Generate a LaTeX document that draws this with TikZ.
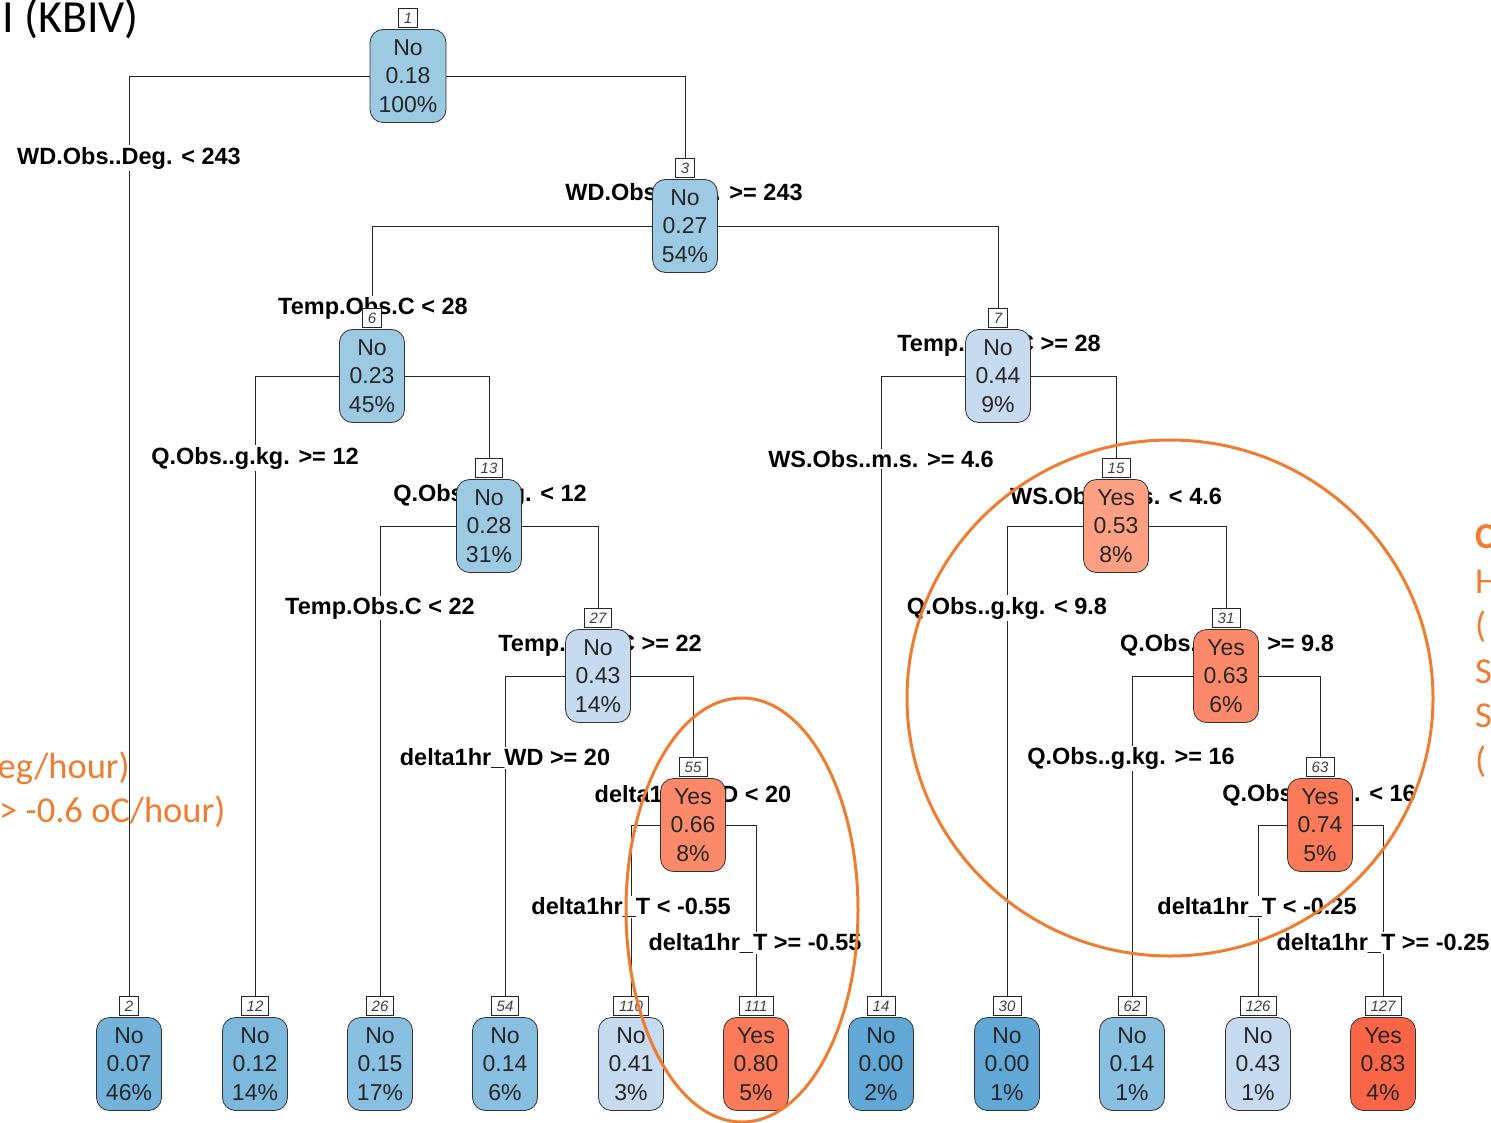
\documentclass[tikz,border=0pt]{standalone}
\usepackage{fontspec}
\setmainfont{Liberation Sans}
\newfontfamily\calib{Carlito}
\pgfdeclarelayer{bg}
\pgfdeclarelayer{lbl}
\pgfsetlayers{bg,lbl,main}
\definecolor{orng}{HTML}{ED7D31}
\definecolor{cA}{HTML}{62A8D6}
\definecolor{cB}{HTML}{72B2DB}
\definecolor{cC}{HTML}{7DB8DD}
\definecolor{cD}{HTML}{89BFE0}
\definecolor{cE}{HTML}{9DCAE3}
\definecolor{cF}{HTML}{C6DBEF}
\definecolor{rA}{HTML}{FC9F82}
\definecolor{rB}{HTML}{FC8A6A}
\definecolor{rC}{HTML}{FB7A5A}
\definecolor{rD}{HTML}{FA6547}
\tikzset{
  tnode/.style={draw=black!80, fill=#1, rounded corners=13pt, minimum width=65pt, minimum height=93pt,
    align=center, font=\fontsize{23}{28.5}\selectfont, text=black!85, line width=0.8pt, inner xsep=8pt},
  numbox/.style={draw=black!85, fill=white, font=\fontsize{15}{15}\selectfont\itshape, text=black!75,
    minimum height=19pt, inner xsep=5.5pt, inner ysep=1pt, line width=0.7pt, anchor=south},
  splitlbl/.style={fill=white, font=\fontsize{23.5}{23.5}\selectfont\bfseries, inner sep=1.5pt, text=black},
  branch/.style={line width=0.8pt, draw=black!85},
  orngtxt/.style={text=orng, font=\calib\fontsize{36.5}{36.5}\selectfont, inner sep=0pt}
}
\begin{document}
\begin{tikzpicture}[x=1pt,y=-1pt]
\useasboundingbox (0,0) rectangle (1491,1123);
\clip (0,0) rectangle (1491,1123);
% internal nodes
\node[tnode=cE, minimum width=76pt] (n1) at (408,76) {No\\0.18\\100\%};
\node[tnode=cE] (n3) at (685,226) {No\\0.27\\54\%};
\node[tnode=cE] (n6) at (372,376) {No\\0.23\\45\%};
\node[tnode=cF] (n7) at (998,376) {No\\0.44\\9\%};
\node[tnode=cE] (n13) at (489,526) {No\\0.28\\31\%};
\node[tnode=rA] (n15) at (1116,526) {Yes\\0.53\\8\%};
\node[tnode=cF] (n27) at (598,676) {No\\0.43\\14\%};
\node[tnode=rB] (n31) at (1226,676) {Yes\\0.63\\6\%};
\node[tnode=rB] (n55) at (693,825) {Yes\\0.66\\8\%};
\node[tnode=rC] (n63) at (1320,825) {Yes\\0.74\\5\%};
% leaves
\node[tnode=cB] (n2) at (129,1064) {No\\0.07\\46\%};
\node[tnode=cC] (n12) at (255,1064) {No\\0.12\\14\%};
\node[tnode=cD] (n26) at (380,1064) {No\\0.15\\17\%};
\node[tnode=cD] (n54) at (505,1064) {No\\0.14\\6\%};
\node[tnode=cF] (n110) at (631,1064) {No\\0.41\\3\%};
\node[tnode=rC] (n111) at (756,1064) {Yes\\0.80\\5\%};
\node[tnode=cA] (n14) at (881,1064) {No\\0.00\\2\%};
\node[tnode=cA] (n30) at (1007,1064) {No\\0.00\\1\%};
\node[tnode=cD] (n62) at (1132,1064) {No\\0.14\\1\%};
\node[tnode=cF] (n126) at (1258,1064) {No\\0.43\\1\%};
\node[tnode=rD] (n127) at (1383,1064) {Yes\\0.83\\4\%};
% number boxes
\foreach \k in {1,3,6,7,13,15,27,31,55,63,2,12,26,54,110,111,14,30,62,126,127}{
  \node[numbox] (b\k) at ([yshift=1pt]n\k.north) {\k};
}
% connectors
\begin{pgfonlayer}{bg}
\draw[branch] (n1.west) -| (b2.north);
\draw[branch] (n1.east) -| (b3.north);
\draw[branch] (n3.west) -| (b6.north);
\draw[branch] (n3.east) -| (b7.north);
\draw[branch] (n6.west) -| (b12.north);
\draw[branch] (n6.east) -| (b13.north);
\draw[branch] (n7.west) -| (b14.north);
\draw[branch] (n7.east) -| (b15.north);
\draw[branch] (n13.west) -| (b26.north);
\draw[branch] (n13.east) -| (b27.north);
\draw[branch] (n15.west) -| (b30.north);
\draw[branch] (n15.east) -| (b31.north);
\draw[branch] (n27.west) -| (b54.north);
\draw[branch] (n27.east) -| (b55.north);
\draw[branch] (n31.west) -| (b62.north);
\draw[branch] (n31.east) -| (b63.north);
\draw[branch] (n55.west) -| (b110.north);
\draw[branch] (n55.east) -| (b111.north);
\draw[branch] (n63.west) -| (b126.north);
\draw[branch] (n63.east) -| (b127.north);
\end{pgfonlayer}
% split labels
\begin{pgfonlayer}{lbl}
\node[splitlbl] (s1l) at (129,158) {WD.Obs..Deg. < 243};
\node[splitlbl] (s1r) at (684,194) {WD.Obs..Deg. >= 243};
\node[splitlbl] (s3l) at (373,308) {Temp.Obs.C < 28};
\node[splitlbl] (s3r) at (999,345) {Temp.Obs.C >= 28};
\node[splitlbl] (s6l) at (255,458) {Q.Obs..g.kg. >= 12};
\node[splitlbl] (s6r) at (490,495) {Q.Obs..g.kg. < 12};
\node[splitlbl] (s7l) at (881,459) {WS.Obs..m.s. >= 4.6};
\node[splitlbl] (s7r) at (1116,496) {WS.Obs..m.s. < 4.6};
\node[splitlbl] (s13l) at (380,608) {Temp.Obs.C < 22};
\node[splitlbl] (s13r) at (600,645) {Temp.Obs.C >= 22};
\node[splitlbl] (s15l) at (1007,608) {Q.Obs..g.kg. < 9.8};
\node[splitlbl] (s15r) at (1227,645) {Q.Obs..g.kg. >= 9.8};
\node[splitlbl] (s27l) at (505,758) {delta1hr\_WD >= 20};
\node[splitlbl] (s27r) at (693,795) {delta1hr\_WD < 20};
\node[splitlbl] (s31l) at (1131,758) {Q.Obs..g.kg. >= 16};
\node[splitlbl] (s31r) at (1319,795) {Q.Obs..g.kg. < 16};
\node[splitlbl] (s55l) at (631,907) {delta1hr\_T < -0.55};
\node[splitlbl] (s55r) at (755,943) {delta1hr\_T >= -0.55};
\node[splitlbl] (s63l) at (1257,907) {delta1hr\_T < -0.25};
\node[splitlbl] (s63r) at (1383,943) {delta1hr\_T >= -0.25};
\end{pgfonlayer}
% orange annotations
\draw[orng, line width=3pt] (742,910) ellipse [x radius=116, y radius=212];
\draw[orng, line width=3pt] (1170,698) ellipse [x radius=263, y radius=258];
\node[orngtxt, anchor=east] (t1) at (130,768) {eg/hour)};
\node[orngtxt, anchor=west] (t2) at (-1,812) {> -0.6 oC/hour)};
\node[orngtxt, anchor=west, font=\calib\bfseries\fontsize{36.5}{36.5}\selectfont] (r1) at (1475,537) {C};
\node[orngtxt, anchor=west] (r2) at (1475,582) {H};
\node[orngtxt, anchor=west] (r3) at (1475,627) {(};
\node[orngtxt, anchor=west] (r4) at (1475,672) {S};
\node[orngtxt, anchor=west] (r5) at (1475,716) {S};
\node[orngtxt, anchor=west] (r6) at (1475,762) {(};
\node[font=\calib\fontsize{46}{46}\selectfont, anchor=east, inner sep=0pt] (title) at (139,19) {I (KBIV)};
\end{tikzpicture}
\end{document}
